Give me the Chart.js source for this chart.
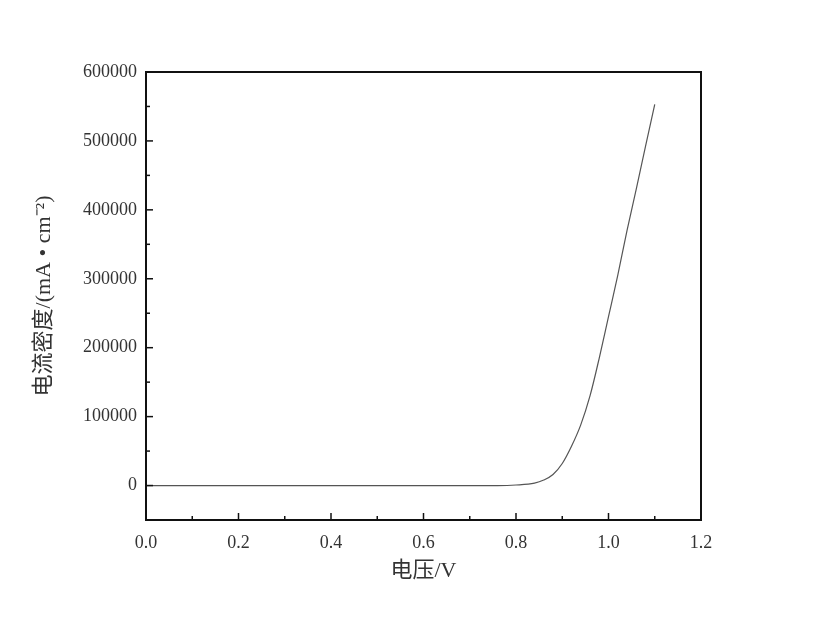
<!DOCTYPE html>
<html>
<head>
<meta charset="utf-8">
<script src="https://cdn.jsdelivr.net/npm/chart.js@4"></script>
<style>
body { margin: 0; background: #fff; }
#wrap { width: 815px; height: 624px; }
</style>
</head>
<body>
<div id="wrap"><canvas id="chart" width="815" height="624"></canvas></div>
<script>
// voltage (V) and current density (mA/cm2)
const voltage = [0.0, 0.1, 0.2, 0.3, 0.4, 0.5, 0.6, 0.7, 0.76, 0.8, 0.84, 0.86, 0.88, 0.9,
  0.92, 0.94, 0.96, 0.98, 1.0, 1.02, 1.04, 1.06, 1.08, 1.1];
const density = [0, 0, 0, 0, 0, 0, 0, 0, 0, 800, 3500, 8000, 16000, 32000,
  57000, 88000, 130000, 185000, 245000, 305000, 370000, 430000, 492000, 553000];

const xMajor = [0.0, 0.2, 0.4, 0.6, 0.8, 1.0, 1.2];
const xLabels = ['0.0', '0.2', '0.4', '0.6', '0.8', '1.0', '1.2'];
const xMinor = [0.1, 0.3, 0.5, 0.7, 0.9, 1.1];
const yMajor = [0, 100000, 200000, 300000, 400000, 500000, 600000];
const yLabels = ['0', '100000', '200000', '300000', '400000', '500000', '600000'];
const yMinor = [50000, 150000, 250000, 350000, 450000, 550000];

const serif = "'Liberation Serif', 'Noto Sans CJK SC', serif";

// frame and inward tick marks
const framePlugin = {
  id: 'frame',
  afterDraw(chart) {
    const ctx = chart.ctx;
    const a = chart.chartArea;
    const xs = chart.scales.x;
    const ys = chart.scales.y;
    ctx.save();
    ctx.strokeStyle = '#111';
    ctx.lineWidth = 1.5;
    xMajor.forEach(v => tick(ctx, xs.getPixelForValue(v), a.bottom, xs.getPixelForValue(v), a.bottom - 7));
    xMinor.forEach(v => tick(ctx, xs.getPixelForValue(v), a.bottom, xs.getPixelForValue(v), a.bottom - 4));
    yMajor.forEach(v => tick(ctx, a.left, ys.getPixelForValue(v), a.left + 7, ys.getPixelForValue(v)));
    yMinor.forEach(v => tick(ctx, a.left, ys.getPixelForValue(v), a.left + 4, ys.getPixelForValue(v)));
    ctx.lineWidth = 2;
    ctx.strokeRect(a.left, a.top, a.right - a.left, a.bottom - a.top);
    ctx.restore();
  }
};

function tick(ctx, x1, y1, x2, y2) {
  ctx.beginPath();
  ctx.moveTo(x1, y1);
  ctx.lineTo(x2, y2);
  ctx.stroke();
}

new Chart(document.getElementById('chart'), {
  type: 'line',
  data: {
    datasets: [{
      data: voltage.map((v, i) => ({ x: v, y: density[i] })),
      borderColor: '#555',
      borderWidth: 1.2,
      pointRadius: 0,
      cubicInterpolationMode: 'monotone',
      fill: false
    }]
  },
  options: {
    responsive: false,
    animation: false,
    devicePixelRatio: 1,
    layout: { padding: { top: 72, right: 114, left: 0, bottom: 0 } },
    plugins: { legend: { display: false }, tooltip: { enabled: false } },
    scales: {
      x: {
        type: 'linear',
        min: 0,
        max: 1.2,
        afterFit: s => { s.height = 104; },
        afterBuildTicks: s => { s.ticks = xMajor.map(v => ({ value: v })); },
        grid: { display: false, drawTicks: false },
        border: { display: false },
        ticks: {
          padding: 12,
          color: '#333',
          font: { family: serif, size: 18 },
          callback: (v, i) => xLabels[i]
        },
        title: {
          display: true,
          text: '电压/V',
          color: '#333',
          font: { family: serif, size: 22 },
          padding: { top: 0, bottom: 40 }
        }
      },
      y: {
        min: -50000,
        max: 600000,
        afterFit: s => { s.width = 146; },
        afterBuildTicks: s => { s.ticks = yMajor.map(v => ({ value: v })); },
        grid: { display: false, drawTicks: false },
        border: { display: false },
        ticks: {
          padding: 9,
          color: '#333',
          font: { family: serif, size: 18 },
          callback: (v, i) => yLabels[i]
        },
        title: {
          display: true,
          text: '电流密度/(mA • cm⁻²)',
          color: '#333',
          font: { family: serif, size: 22 },
          padding: { top: 31, bottom: 0 }
        }
      }
    }
  },
  plugins: [framePlugin]
});
</script>
</body>
</html>
